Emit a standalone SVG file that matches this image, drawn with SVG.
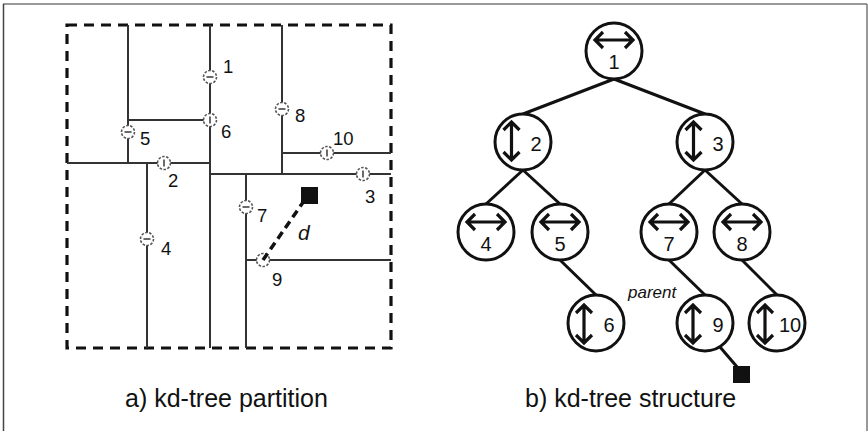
<svg xmlns="http://www.w3.org/2000/svg" xmlns:xlink="http://www.w3.org/1999/xlink" width="868" height="431" viewBox="0 0 868 431">
<style>
.frame{stroke:#777;stroke-width:1.5;fill:none}
.part{stroke:#333;stroke-width:2;fill:none}
.bound{stroke:#111;stroke-width:3.2;fill:none;stroke-dasharray:10 7}
.lbl{font-family:"Liberation Sans",Arial,sans-serif;font-size:18.5px;fill:#111}
.nlbl{font-family:"Liberation Sans",Arial,sans-serif;font-size:20px;fill:#111;text-anchor:middle}
.cap{font-family:"Liberation Sans",Arial,sans-serif;font-size:25px;fill:#111}
.it{font-family:"Liberation Sans",Arial,sans-serif;font-style:italic;fill:#111}
.node{fill:#fff;stroke:#111;stroke-width:3}
.edge{stroke:#111;stroke-width:3;fill:none}
.arr{stroke:#111;stroke-width:3.2;fill:none;stroke-linecap:butt;stroke-linejoin:miter}
.pt{fill:#fff;stroke:#555;stroke-width:1.6;stroke-dasharray:2.5 1.5}
.bar{stroke:#444;stroke-width:1.6}
</style>
<defs>
<path id="ah" class="arr" d="M-19,0 H19 M-11,-8 L-19,0 L-11,8 M11,-8 L19,0 L11,8"/>
<path id="av" class="arr" d="M0,-19 V19 M-8,-11 L0,-19 L8,-11 M-8,11 L0,19 L8,11"/>
<g id="ph"><circle class="pt" r="6.5"/><line class="bar" x1="-3.5" y1="0" x2="3.5" y2="0"/></g>
<g id="pv"><circle class="pt" r="6.5"/><line class="bar" x1="0" y1="-3.5" x2="0" y2="3.5"/></g>
</defs>

<g id="frame">
<line class="frame" x1="3" y1="4" x2="867" y2="4"/>
<line class="frame" x1="3.5" y1="4" x2="3.5" y2="431" style="stroke:#444"/>
<line class="frame" x1="867" y1="4" x2="867" y2="431"/>
</g>

<g id="partition">
<rect class="bound" x="67" y="25" width="324" height="323"/>
<line class="part" x1="128" y1="25" x2="128" y2="163"/>
<line class="part" x1="210" y1="25" x2="210" y2="348"/>
<line class="part" x1="282" y1="25" x2="282" y2="174"/>
<line class="part" x1="128" y1="120" x2="210" y2="120"/>
<line class="part" x1="67" y1="163" x2="210" y2="163"/>
<line class="part" x1="147" y1="163" x2="147" y2="348"/>
<line class="part" x1="282" y1="153" x2="391" y2="153"/>
<line class="part" x1="210" y1="174" x2="391" y2="174"/>
<line class="part" x1="246" y1="174" x2="246" y2="348"/>
<line class="part" x1="246" y1="260" x2="391" y2="260"/>
<use xlink:href="#ph" x="210" y="77"/>
<use xlink:href="#pv" x="210" y="120"/>
<use xlink:href="#ph" x="128" y="132"/>
<use xlink:href="#ph" x="282" y="109"/>
<use xlink:href="#pv" x="327" y="153"/>
<use xlink:href="#pv" x="164" y="163"/>
<use xlink:href="#pv" x="363" y="174"/>
<use xlink:href="#ph" x="147" y="239"/>
<use xlink:href="#ph" x="246" y="207"/>
<circle class="pt" cx="263" cy="260" r="6.5"/>
<line x1="263" y1="260" x2="304" y2="201" stroke="#111" stroke-width="3.5" stroke-dasharray="8 5"/>
<rect x="301" y="187" width="17" height="17" fill="#111"/>
<text class="it" x="298" y="240" font-size="21">d</text>
<text class="lbl" x="223" y="73">1</text>
<text class="lbl" x="295" y="122">8</text>
<text class="lbl" x="221" y="138">6</text>
<text class="lbl" x="140" y="145">5</text>
<text class="lbl" x="333" y="145">10</text>
<text class="lbl" x="168" y="187">2</text>
<text class="lbl" x="365" y="203">3</text>
<text class="lbl" x="257" y="222">7</text>
<text class="lbl" x="161" y="255">4</text>
<text class="lbl" x="272" y="286">9</text>
</g>

<g id="edges">
<line class="edge" x1="614" y1="79" x2="523" y2="114"/>
<line class="edge" x1="614" y1="79" x2="705" y2="114"/>
<line class="edge" x1="523" y1="170" x2="486" y2="204"/>
<line class="edge" x1="523" y1="170" x2="560" y2="204"/>
<line class="edge" x1="705" y1="170" x2="669" y2="204"/>
<line class="edge" x1="705" y1="170" x2="742" y2="204"/>
<line class="edge" x1="560" y1="260" x2="596" y2="295"/>
<line class="edge" x1="669" y1="260" x2="705" y2="295"/>
<line class="edge" x1="742" y1="260" x2="777" y2="295"/>
<line class="edge" x1="720" y1="347" x2="738" y2="368"/>
</g>

<g id="n1"><circle class="node" cx="614" cy="51" r="28"/><use xlink:href="#ah" x="614" y="40"/><text class="nlbl" x="614" y="69">1</text></g>
<g id="n2"><circle class="node" cx="523" cy="142" r="28"/><use xlink:href="#av" x="511.5" y="141"/><text class="nlbl" x="536" y="151">2</text></g>
<g id="n3"><circle class="node" cx="705" cy="142" r="28"/><use xlink:href="#av" x="693.5" y="141"/><text class="nlbl" x="718" y="151">3</text></g>
<g id="n4"><circle class="node" cx="486" cy="232" r="28"/><use xlink:href="#ah" x="486" y="222"/><text class="nlbl" x="486" y="251">4</text></g>
<g id="n5"><circle class="node" cx="560" cy="232" r="28"/><use xlink:href="#ah" x="560" y="222"/><text class="nlbl" x="560" y="251">5</text></g>
<g id="n7"><circle class="node" cx="669" cy="232" r="28"/><use xlink:href="#ah" x="669" y="222"/><text class="nlbl" x="669" y="251">7</text></g>
<g id="n8"><circle class="node" cx="742" cy="232" r="28"/><use xlink:href="#ah" x="742" y="222"/><text class="nlbl" x="742" y="251">8</text></g>
<g id="n6"><circle class="node" cx="596" cy="323" r="28"/><use xlink:href="#av" x="584" y="324"/><text class="nlbl" x="609" y="332">6</text></g>
<g id="n9"><circle class="node" cx="705" cy="323" r="28"/><use xlink:href="#av" x="693" y="324"/><text class="nlbl" x="718" y="332">9</text></g>
<g id="n10"><circle class="node" cx="777" cy="323" r="28"/><use xlink:href="#av" x="765" y="324"/><text class="nlbl" x="790" y="332">10</text></g>
<g id="query"><rect x="733" y="366" width="17" height="17" fill="#111"/></g>
<text class="it" x="628" y="298" font-size="17">parent</text>

<text class="cap" x="125" y="407">a) kd-tree partition</text>
<text class="cap" x="525" y="407">b) kd-tree structure</text>
</svg>
